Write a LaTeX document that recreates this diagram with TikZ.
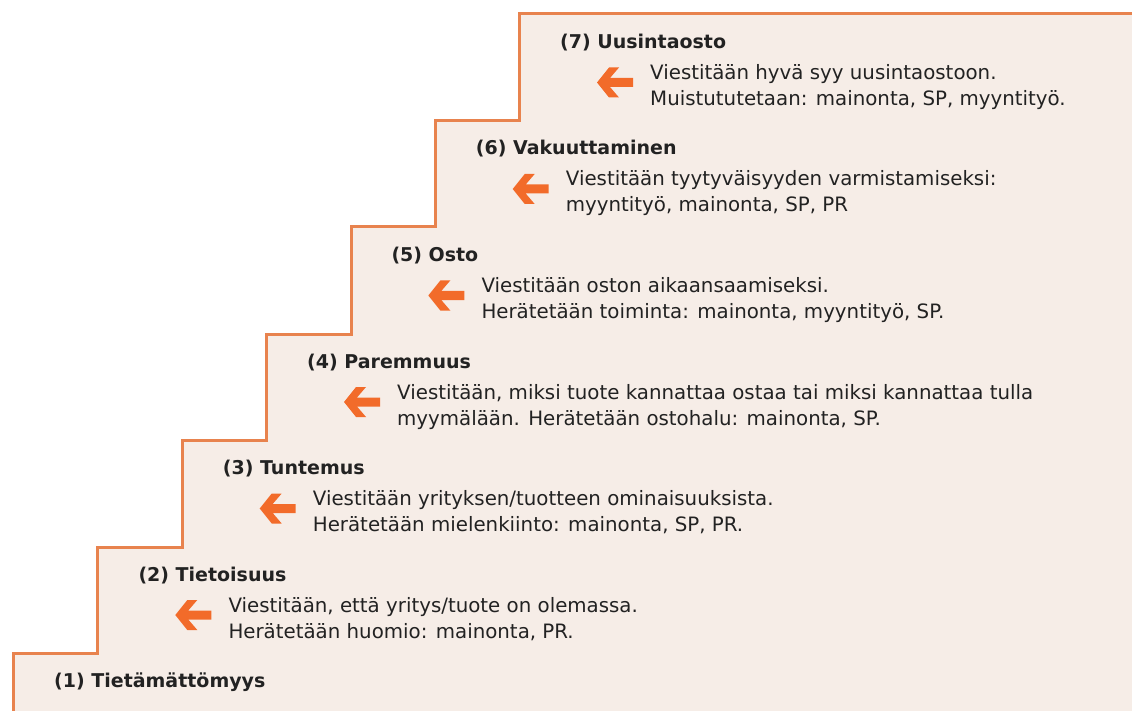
\documentclass[tikz,border=0pt]{standalone}
\usepackage{fontspec}
\setmainfont{DejaVu Sans}
\definecolor{stair}{HTML}{E8834E}
\definecolor{paper}{HTML}{F6EDE7}
\definecolor{arr}{HTML}{F26B2A}
\definecolor{ink}{HTML}{222222}
\newcommand\stepArrow[2]{\fill[arr] (#1,#2) -- ++(12,-15) -- ++(10,0) -- ++(-9,10.5) -- ++(23,0) -- ++(0,9) -- ++(-23,0) -- ++(9,10.5) -- ++(-10,0) -- cycle;}
\begin{document}
\begin{tikzpicture}[x=1pt,y=-1pt,
  title/.style={anchor=base west, inner sep=0pt, font=\fontsize{19}{21}\selectfont\bfseries, text=ink},
  body/.style={anchor=base west, inner sep=0pt, font=\fontsize{19.8}{22}\selectfont, text=ink}]
\useasboundingbox (0,0) rectangle (1132,711);
\fill[white] (0,0) rectangle (1132,711);
\fill[paper] (13,711) -- (13,653) -- (97,653) -- (97,547) -- (182,547) -- (182,440) -- (266,440) -- (266,334) -- (351,334) -- (351,227) -- (435,227) -- (435,121) -- (519,121) -- (519,14) -- (1132,14) -- (1132,711) -- cycle;
\draw[stair, line width=3pt, line join=miter] (13,711) -- (13,653) -- (97,653) -- (97,547) -- (182,547) -- (182,440) -- (266,440) -- (266,334) -- (351,334) -- (351,227) -- (435,227) -- (435,121) -- (519,121) -- (519,14) -- (1132,14);
% step 1
\node[title] (t1) at (54,687.5) {(1) Tietämättömyys};
% step 2
\node[title] (t2) at (138.3,581) {(2) Tietoisuus};
\stepArrow{175.3}{615}
\node[body] (b2a) at (228.3,612) {Viestitään, että yritys/tuote on olemassa.};
\node[body] (b2b) at (228.3,638) {Herätetään huomio: mainonta, PR.};
% step 3
\node[title] (t3) at (222.7,474.5) {(3) Tuntemus};
\stepArrow{259.7}{508.5}
\node[body] (b3a) at (312.7,505.5) {Viestitään yrityksen/tuotteen ominaisuuksista.};
\node[body] (b3b) at (312.7,531.5) {Herätetään mielenkiinto: mainonta, SP, PR.};
% step 4
\node[title] (t4) at (307,368) {(4) Paremmuus};
\stepArrow{344}{402}
\node[body] (b4a) at (397,399) {Viestitään, miksi tuote kannattaa ostaa tai miksi kannattaa tulla};
\node[body] (b4b) at (397,425) {myymälään. Herätetään ostohalu: mainonta, SP.};
% step 5
\node[title] (t5) at (391.3,261.5) {(5) Osto};
\stepArrow{428.3}{295.5}
\node[body] (b5a) at (481.3,292.5) {Viestitään oston aikaansaamiseksi.};
\node[body] (b5b) at (481.3,318.5) {Herätetään toiminta: mainonta, myyntityö, SP.};
% step 6
\node[title] (t6) at (475.7,155) {(6) Vakuuttaminen};
\stepArrow{512.7}{189}
\node[body] (b6a) at (565.7,186) {Viestitään tyytyväisyyden varmistamiseksi:};
\node[body] (b6b) at (565.7,212) {myyntityö, mainonta, SP, PR};
% step 7
\node[title] (t7) at (560,48.5) {(7) Uusintaosto};
\stepArrow{597}{82.5}
\node[body] (b7a) at (650,79.5) {Viestitään hyvä syy uusintaostoon.};
\node[body] (b7b) at (650,105.5) {Muistututetaan: mainonta, SP, myyntityö.};
\end{tikzpicture}
\end{document}
